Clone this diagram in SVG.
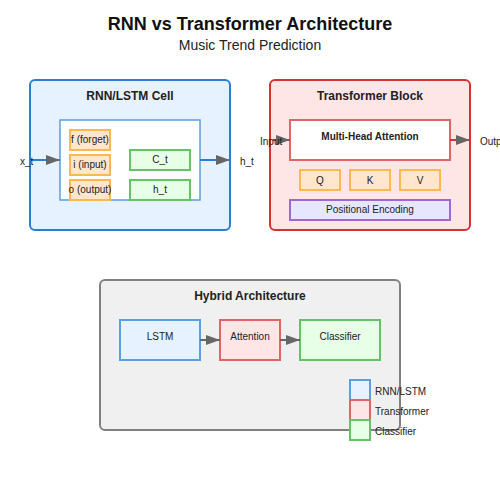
<svg xmlns="http://www.w3.org/2000/svg" width="500" height="500" viewBox="0 0 500 500">
<defs>
<marker id="arr" markerUnits="userSpaceOnUse" markerWidth="14" markerHeight="10" refX="14" refY="5" orient="auto">
<path d="M0,0 L14,5 L0,10 z" fill="#666"/>
</marker>
<style>
text{font-family:"Liberation Sans",Arial,sans-serif;fill:#222}
.title{font-size:18px;font-weight:bold;fill:#111}
.sub{font-size:14px}
.h{font-size:12px;font-weight:bold}
.t{font-size:10px}
.tb{font-size:10px;font-weight:bold}
.blue{fill:#e6f2ff;stroke:#5a9fe0;stroke-width:2}
.red{fill:#ffe6e6;stroke:#e06666;stroke-width:2}
.green{fill:#e6ffe6;stroke:#66c266;stroke-width:2}
.orange{fill:#ffe6cc;stroke:#ffb84d;stroke-width:2}
.purple{fill:#e6e6ff;stroke:#a066d3;stroke-width:2}
</style>
</defs>
<rect width="500" height="500" fill="#fff"/>
<text class="title" x="250" y="30" text-anchor="middle">RNN vs Transformer Architecture</text>
<text class="sub" x="250" y="50" text-anchor="middle">Music Trend Prediction</text>

<g id="rnn-cell">
<rect x="30" y="80" width="200" height="150" rx="5" fill="#e6f2ff" stroke="#2a7ed3" stroke-width="2"/>
<text class="h" x="130" y="100" text-anchor="middle">RNN/LSTM Cell</text>
<rect x="60" y="120" width="140" height="80" fill="#fff" stroke="#5a9fe0" stroke-width="1.5"/>
</g>
<g id="gate-f"><rect class="orange" x="70" y="130" width="40" height="20"/><text class="t" x="90" y="143" text-anchor="middle">f (forget)</text></g>
<g id="gate-i"><rect class="orange" x="70" y="155" width="40" height="20"/><text class="t" x="90" y="168" text-anchor="middle">i (input)</text></g>
<g id="gate-o"><rect class="orange" x="70" y="180" width="40" height="20"/><text class="t" x="90" y="193" text-anchor="middle">o (output)</text></g>
<g id="state-c"><rect class="green" x="130" y="150" width="60" height="20"/><text class="t" x="160" y="163" text-anchor="middle">C_t</text></g>
<g id="state-h"><rect class="green" x="130" y="180" width="60" height="20"/><text class="t" x="160" y="193" text-anchor="middle">h_t</text></g>

<g id="transformer-block">
<rect x="270" y="80" width="200" height="150" rx="5" fill="#ffe6e6" stroke="#d93030" stroke-width="2"/>
<text class="h" x="370" y="100" text-anchor="middle">Transformer Block</text>
</g>
<g id="mha"><rect x="290" y="120" width="160" height="40" fill="#fff" stroke="#e06666" stroke-width="2"/><text class="tb" x="370" y="140" text-anchor="middle">Multi-Head Attention</text></g>
<g id="q"><rect class="orange" x="300" y="170" width="40" height="20"/><text class="t" x="320" y="184" text-anchor="middle">Q</text></g>
<g id="k"><rect class="orange" x="350" y="170" width="40" height="20"/><text class="t" x="370" y="184" text-anchor="middle">K</text></g>
<g id="v"><rect class="orange" x="400" y="170" width="40" height="20"/><text class="t" x="420" y="184" text-anchor="middle">V</text></g>
<g id="pos-enc"><rect class="purple" x="290" y="200" width="160" height="20"/><text class="t" x="370" y="213" text-anchor="middle">Positional Encoding</text></g>

<g id="hybrid">
<rect x="100" y="280" width="300" height="150" rx="5" fill="#f0f0f0" stroke="#808080" stroke-width="2"/>
<text class="h" x="250" y="300" text-anchor="middle">Hybrid Architecture</text>
</g>
<g id="h-lstm"><rect class="blue" x="120" y="320" width="80" height="40"/><text class="t" x="160" y="340" text-anchor="middle">LSTM</text></g>
<g id="h-attn"><rect class="red" x="220" y="320" width="60" height="40"/><text class="t" x="250" y="340" text-anchor="middle">Attention</text></g>
<g id="h-cls"><rect class="green" x="300" y="320" width="80" height="40"/><text class="t" x="340" y="340" text-anchor="middle">Classifier</text></g>

<g id="legend">
<rect class="blue" x="350" y="380" width="20" height="20"/><text class="t" x="375" y="395">RNN/LSTM</text>
<rect class="red" x="350" y="400" width="20" height="20"/><text class="t" x="375" y="415">Transformer</text>
<rect class="green" x="350" y="420" width="20" height="20"/><text class="t" x="375" y="435">Classifier</text>
</g>

<g id="connectors" fill="none" stroke-width="2">
<line x1="30" y1="160" x2="60" y2="160" stroke="#2a7ed3" marker-end="url(#arr)"/>
<line x1="200" y1="160" x2="230" y2="160" stroke="#2a7ed3" marker-end="url(#arr)"/>
<line x1="273" y1="140" x2="290" y2="140" stroke="#d93030" marker-end="url(#arr)"/>
<line x1="450" y1="140" x2="470" y2="140" stroke="#d93030" marker-end="url(#arr)"/>
<line x1="200" y1="340" x2="220" y2="340" stroke="#666" marker-end="url(#arr)"/>
<line x1="280" y1="340" x2="300" y2="340" stroke="#666" marker-end="url(#arr)"/>
</g>
<g id="labels">
<text class="t" x="20" y="165">x_t</text>
<text class="t" x="240" y="165">h_t</text>
<text class="t" x="260" y="145">Input</text>
<text class="t" x="480" y="145">Output</text>
</g>
</svg>
